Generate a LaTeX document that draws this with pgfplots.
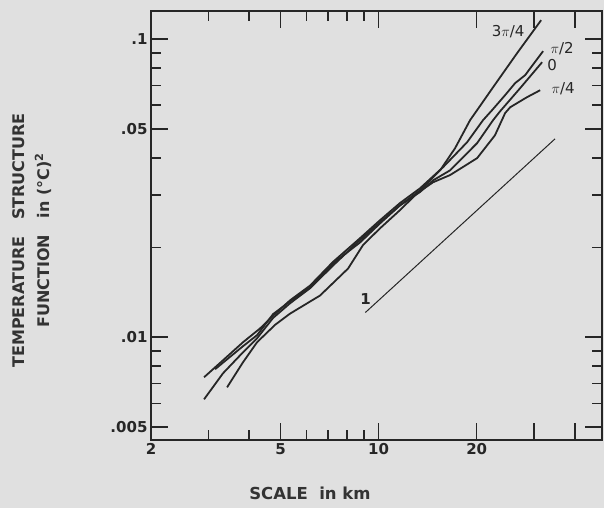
\documentclass[border=0pt]{standalone}
\usepackage{fontspec}
\setmainfont{DejaVu Sans}
\usepackage{pgfplots}
\pgfplotsset{compat=1.18}
\pgfplotsset{curve/.style={black!85, line width=1.8pt, no marks}}
\begin{document}
\begin{tikzpicture}
\fill[black!12] (-151pt,-68pt) rectangle (453pt,440pt);
\begin{axis}[
  at={(0pt,0pt)}, anchor=south west,
  scale only axis, width=451pt, height=429pt,
  xmode=log, ymode=log,
  xmin=2, xmax=48.5, ymin=0.00452, ymax=0.1243,
  xtick={2,5,10,20,30,40}, xticklabels={2,5,10,20,,},
  minor xtick={3,4,6,7,8,9},
  ytick={0.005,0.01,0.05,0.1}, yticklabels={.005,.01,.05,.1},
  minor ytick={0.006,0.007,0.008,0.009,0.02,0.03,0.04,0.06,0.07,0.08,0.09},
  major tick length=17pt, minor tick length=10pt,
  tick align=inside,
  axis line style={line width=2.2pt, black!85},
  tick style={line width=1.6pt, black!85},
  ticklabel style={font=\fontsize{15}{18}\selectfont\bfseries, black!85},
  xlabel={SCALE\ \ in km},
  xlabel style={at={(axis description cs:0.3525,-0.1235)}, anchor=center,
    font=\fontsize{16.5}{18}\selectfont\bfseries, black!80},
  ylabel={TEMPERATURE\ \ \ STRUCTURE\\FUNCTION\ \ \ in (°C)\textsuperscript{2}},
  ylabel style={at={(axis description cs:-0.264,0.465)}, anchor=center, align=center,
    font=\fontsize{16}{25}\selectfont\bfseries, black!80},
]
% 3pi/4
\addplot[curve] coordinates {(2.910,0.00619)(3.328,0.00757)(3.833,0.00890)(4.233,0.00992)(4.739,0.0116)(5.346,0.0130)(6.157,0.0146)(7.244,0.0174)(8.770,0.0212)(10.10,0.0243)(11.63,0.0277)(13.40,0.0311)(15.44,0.0363)(17.17,0.0431)(19.09,0.0535)(20.06,0.0578)(22.46,0.0690)(26.62,0.0898)(31.54,0.1158)};
% pi/2
\addplot[curve] coordinates {(2.910,0.00734)(3.328,0.00837)(3.833,0.00962)(4.323,0.0107)(4.739,0.0118)(5.346,0.0133)(6.157,0.0149)(7.244,0.0179)(8.770,0.0215)(10.10,0.0247)(11.63,0.0282)(13.40,0.0316)(15.77,0.0372)(18.69,0.0451)(20.92,0.0535)(22.30,0.0578)(24.45,0.0649)(26.24,0.0712)(28.16,0.0757)(31.98,0.09115)};
% 0
\addplot[curve] coordinates {(3.146,0.00781)(3.833,0.00933)(4.233,0.01016)(4.739,0.01195)(5.346,0.0132)(6.157,0.0147)(7.244,0.0177)(8.770,0.0208)(10.10,0.0241)(11.63,0.0277)(13.40,0.0307)(14.69,0.0336)(16.57,0.0363)(20.06,0.0448)(22.46,0.0535)(23.60,0.0573)(27.19,0.0685)(31.76,0.0837)};
% pi/4
\addplot[curve] coordinates {(3.424,0.00679)(3.833,0.00824)(4.233,0.00962)(4.807,0.0110)(5.346,0.0120)(6.607,0.0138)(8.055,0.0170)(8.958,0.0204)(10.10,0.0232)(11.63,0.0267)(13.12,0.0304)(14.69,0.0331)(16.57,0.0350)(20.06,0.0399)(22.76,0.0476)(24.45,0.0565)(25.34,0.0591)(28.56,0.0639)(31.32,0.0674)};
% slope 1
\addplot[black!85, line width=1pt] coordinates {(9.1,0.0121)(34.8,0.0463)};
\node[font=\fontsize{15}{18}\selectfont, black!85] at (axis cs:24.98,0.1064) {3$\pi$/4};
\node[font=\fontsize{15}{18}\selectfont, black!85] at (axis cs:36.6,0.0926) {$\pi$/2};
\node[font=\fontsize{15}{18}\selectfont, black!85] at (axis cs:34.09,0.0818) {0};
\node[font=\fontsize{15}{18}\selectfont, black!85] at (axis cs:36.85,0.0680) {$\pi$/4};
\node[font=\fontsize{15}{18}\selectfont\bfseries, black!85] at (axis cs:9.11,0.0134) {1};
\end{axis}
\pgfresetboundingbox
\path (-151pt,-68pt) rectangle (453pt,440pt);
\end{tikzpicture}
\end{document}
